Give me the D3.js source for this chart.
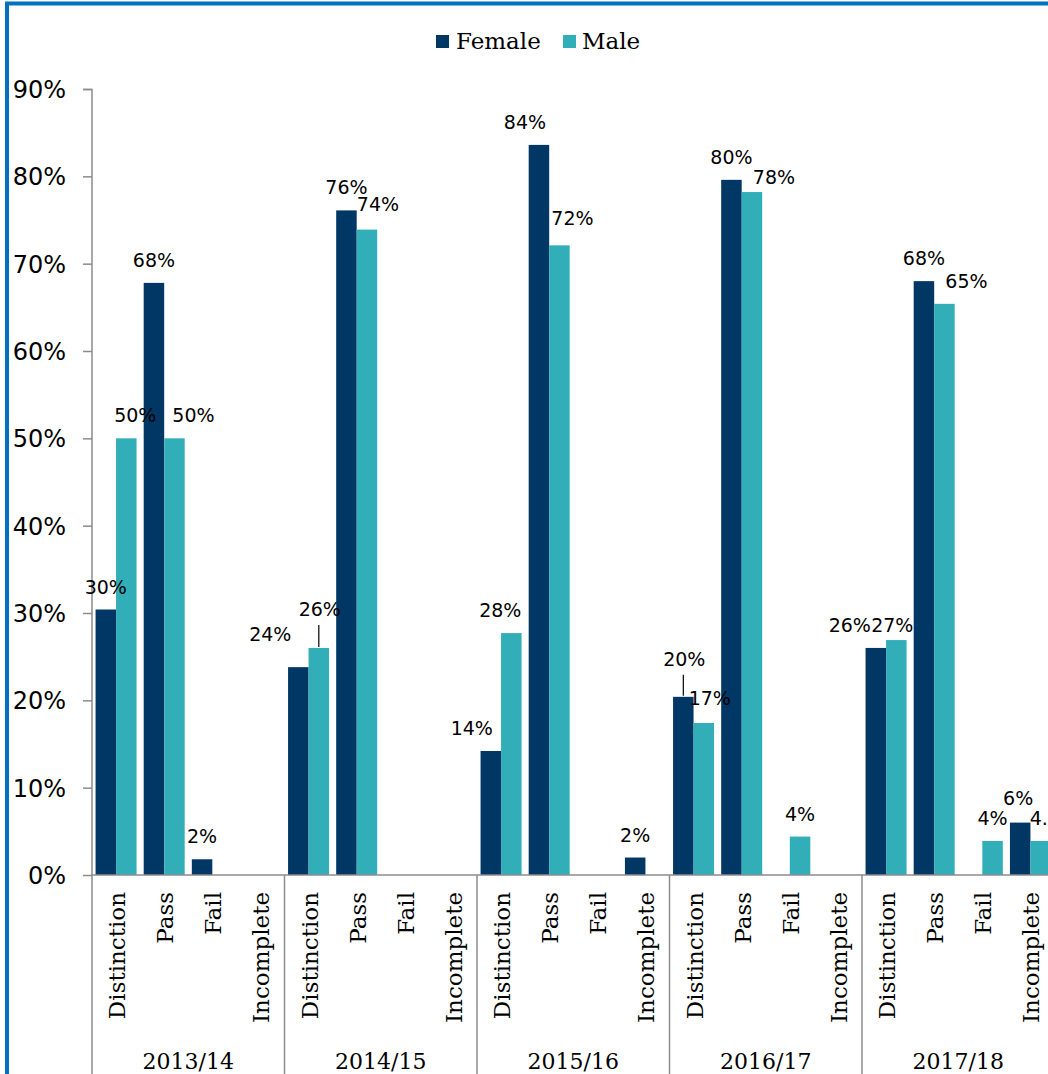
<!DOCTYPE html>
<html>
<head>
<meta charset="utf-8">
<script src="https://cdn.jsdelivr.net/npm/d3@7"></script>
<style>
  html, body { margin: 0; padding: 0; background: #fff; overflow: hidden; }
  svg { display: block; }
</style>
</head>
<body>
<svg id="chart" width="1048" height="1074"></svg>
<script>
// ---------------- DATA ----------------
const years = ["2013/14", "2014/15", "2015/16", "2016/17", "2017/18"];
const outcomes = ["Distinction", "Pass", "Fail", "Incomplete"];
const seriesNames = ["Female", "Male"];
// values in %, order: year -> outcome (Distinction, Pass, Fail, Incomplete)
const female = [
  [30.4, 67.8, 1.8, 0],
  [23.8, 76.1, 0, 0],
  [14.2, 83.6, 0, 2.0],
  [20.4, 79.6, 0, 0],
  [26.0, 68.0, 0, 6.0]
];
const male = [
  [50.0, 50.0, 0, 0],
  [26.0, 73.9, 0, 0],
  [27.7, 72.1, 0, 0],
  [17.4, 78.2, 4.4, 0],
  [26.9, 65.4, 3.9, 3.9]
];
const yTicks = [0, 10, 20, 30, 40, 50, 60, 70, 80, 90];
const colors = { Female: "#003764", Male: "#31aeb8" };

// ---------------- LAYOUT ----------------
const svg = d3.select("#chart");
const W = 1048, H = 1074;
const x0 = 92, plotTop = 89, plotBottom = 875;
const step = 48.125;
const nCats = years.length * outcomes.length;
const xRight = x0 + nCats * step;

const cats = [];
years.forEach((y, yi) => outcomes.forEach((o, oi) => cats.push({ year: y, yi, outcome: o, oi, key: y + "|" + o })));

const x = d3.scaleBand().domain(cats.map(c => c.key)).range([x0, xRight]).paddingInner(0.148).paddingOuter(0.074);
const xs = d3.scaleBand().domain(seriesNames).range([0, x.bandwidth()]);
const y = d3.scaleLinear().domain([0, 90]).range([plotBottom, plotTop]);

// border (blue frame)
svg.append("rect").attr("x", 7).attr("y", 3.5).attr("width", W + 20).attr("height", H + 20)
  .attr("fill", "none").attr("stroke", "#0070c0").attr("stroke-width", 4);

// bars
const bars = [];
cats.forEach(c => {
  bars.push({ cat: c, s: "Female", v: female[c.yi][c.oi] });
  bars.push({ cat: c, s: "Male", v: male[c.yi][c.oi] });
});
svg.append("g").selectAll("rect").data(bars.filter(d => d.v > 0)).join("rect")
  .attr("x", d => x(d.cat.key) + xs(d.s))
  .attr("y", d => y(d.v))
  .attr("width", xs.bandwidth())
  .attr("height", d => y(0) - y(d.v))
  .attr("fill", d => colors[d.s]);

// y axis
const yAxis = d3.axisLeft(y).tickValues(yTicks).tickFormat(d => d + "%").tickSize(9).tickPadding(17);
const yg = svg.append("g").attr("transform", `translate(${x0},0)`).call(yAxis);
yg.select(".domain").attr("stroke", "#8c8c8c").attr("stroke-width", 1.5).attr("d", `M-9,${plotTop}.5H0V${plotBottom}`);
yg.selectAll(".tick line").attr("stroke", "#8c8c8c").attr("stroke-width", 1.5);
yg.selectAll(".tick text").attr("font-family", "'DejaVu Sans', Verdana, sans-serif").attr("font-size", 24).attr("fill", "#000").attr("dy", "0.36em");

// x axis line
svg.append("line").attr("x1", x0).attr("x2", W).attr("y1", plotBottom).attr("y2", plotBottom)
  .attr("stroke", "#8c8c8c").attr("stroke-width", 1.5);
// group separators
d3.range(years.length + 1).forEach(i => {
  const gx = x0 + i * 4 * step;
  svg.append("line").attr("x1", gx).attr("x2", gx).attr("y1", plotBottom).attr("y2", H)
    .attr("stroke", "#8c8c8c").attr("stroke-width", 1.5);
});

// category labels (rotated)
svg.append("g").selectAll("text").data(cats).join("text")
  .attr("transform", d => `translate(${x(d.key) + x.bandwidth() / 2 + 1},892) rotate(-90)`)
  .attr("text-anchor", "end")
  .attr("dominant-baseline", "central")
  .attr("font-family", "'DejaVu Serif', Georgia, serif")
  .attr("font-size", 23)
  .attr("fill", "#000")
  .text(d => d.outcome);

// year labels
svg.append("g").selectAll("text").data(years).join("text")
  .attr("x", (d, i) => x0 + (i * 4 + 2) * step)
  .attr("y", 1069)
  .attr("text-anchor", "middle")
  .attr("font-family", "'DejaVu Serif', Georgia, serif")
  .attr("font-size", 22)
  .attr("fill", "#000")
  .text(d => d);

// data labels
const fmt = d => Math.round(d) + "%";
const tweaks = {
  "2013/14|Distinction|Male": { dx: 9 },
  "2013/14|Pass|Male": { dx: 19 },
  "2014/15|Distinction|Female": { dx: -28, dy: -10 },
  "2014/15|Distinction|Male": { dx: 1, dy: -16, leader: true },
  "2014/15|Pass|Male": { dx: 11, dy: -3 },
  "2015/16|Distinction|Female": { dx: -19 },
  "2015/16|Distinction|Male": { dx: -11 },
  "2015/16|Pass|Female": { dx: -14 },
  "2015/16|Pass|Male": { dx: 13, dy: -4 },
  "2016/17|Distinction|Female": { dx: 1, dy: -15, leader: true },
  "2016/17|Distinction|Male": { dx: 6, dy: -2 },
  "2016/17|Pass|Male": { dx: 22, dy: 8 },
  "2017/18|Distinction|Female": { dx: -26 },
  "2017/18|Distinction|Male": { dx: -4, dy: 8 },
  "2017/18|Pass|Male": { dx: 22 },
  "2017/18|Incomplete|Female": { dx: -2, dy: -2 },
  "2017/18|Incomplete|Male": { dx: 4, text: "4.0%", anchor: "start", ax: -15 }
};
const lab = svg.append("g");
bars.filter(d => d.v > 0).forEach(d => {
  const k = d.cat.key + "|" + d.s;
  const t = tweaks[k] || {};
  const cx = x(d.cat.key) + xs(d.s) + xs.bandwidth() / 2;
  const top = y(d.v);
  const lx = cx + (t.dx || 0) + (t.ax || 0);
  const ly = top - 16 + (t.dy || 0);
  lab.append("text")
    .attr("x", lx).attr("y", ly)
    .attr("text-anchor", t.anchor || "middle")
    .attr("font-family", "'DejaVu Sans', Verdana, sans-serif")
    .attr("font-size", 19)
    .attr("fill", "#000")
    .text(t.text || fmt(d.v));
  if (t.leader) {
    lab.append("line").attr("x1", cx).attr("x2", cx).attr("y1", ly + 9).attr("y2", top - 1)
      .attr("stroke", "#000").attr("stroke-width", 1.2);
  }
});

// legend
const lg = svg.append("g");
[{ s: "Female", x: 436, tx: 456 }, { s: "Male", x: 563, tx: 582 }].forEach(l => {
  lg.append("rect").attr("x", l.x).attr("y", 35).attr("width", 13).attr("height", 13).attr("fill", colors[l.s]);
  lg.append("text").attr("x", l.tx).attr("y", 49)
    .attr("font-family", "'DejaVu Serif', Georgia, serif").attr("font-size", 23).attr("fill", "#000").text(l.s);
});
</script>
</body>
</html>
